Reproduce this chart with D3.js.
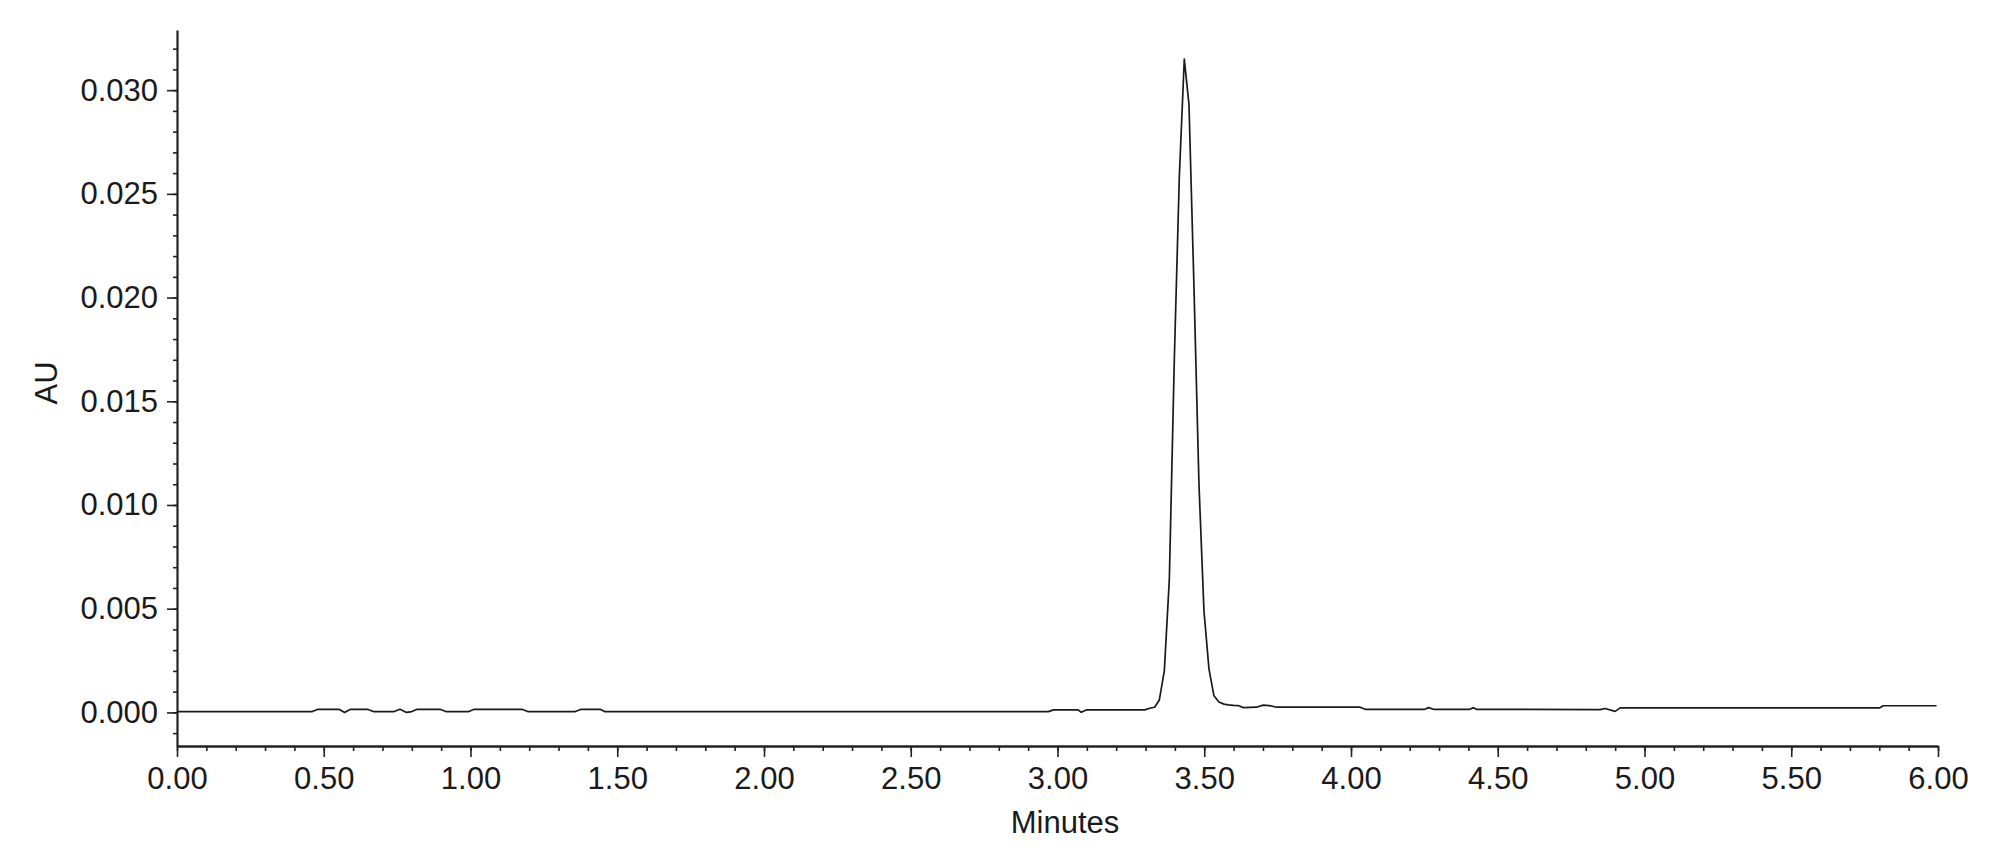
<!DOCTYPE html>
<html>
<head>
<meta charset="utf-8">
<script src="https://cdn.jsdelivr.net/npm/d3@7"></script>
<style>
  html, body { margin: 0; padding: 0; background: #ffffff; }
  svg { display: block; }
  text { font-family: "Liberation Sans", Arial, Helvetica, sans-serif; fill: #1a1a1a; }
</style>
</head>
<body>
<svg id="chart" width="2000" height="864"></svg>
<script>
// ---- data ----
const timeMin = [
  0.000, 0.461, 0.480, 0.552, 0.571, 0.591, 0.649, 0.669, 0.740, 0.760,
  0.782, 0.800, 0.818, 0.896, 0.916, 0.994, 1.013, 1.175, 1.195, 1.357,
  1.377, 1.442, 1.457, 2.969, 2.986, 3.070, 3.081, 3.098, 3.297, 3.314,
  3.331, 3.347, 3.364, 3.381, 3.398, 3.415, 3.432, 3.448, 3.465, 3.482,
  3.499, 3.516, 3.533, 3.550, 3.567, 3.583, 3.600, 3.616, 3.633, 3.678,
  3.701, 3.722, 3.746, 4.031, 4.048, 4.252, 4.264, 4.281, 4.405, 4.417,
  4.427, 4.848, 4.866, 4.900, 4.917, 5.802, 5.813, 5.995
];
const absorbanceAU = [
  0.00004, 0.00004, 0.00015, 0.00015, 0.00000, 0.00015, 0.00015, 0.00004, 0.00004, 0.00015,
  0.00000, 0.00004, 0.00015, 0.00015, 0.00004, 0.00004, 0.00015, 0.00015, 0.00004, 0.00004,
  0.00015, 0.00015, 0.00004, 0.00004, 0.00012, 0.00012, 0.00001, 0.00012, 0.00012, 0.00020,
  0.00025, 0.00060, 0.00200, 0.00640, 0.01700, 0.02580, 0.03150, 0.02930, 0.02050, 0.01100,
  0.00490, 0.00210, 0.00080, 0.00050, 0.00040, 0.00036, 0.00034, 0.00033, 0.00023, 0.00025,
  0.00035, 0.00033, 0.00025, 0.00025, 0.00015, 0.00015, 0.00023, 0.00015, 0.00015, 0.00023,
  0.00015, 0.00013, 0.00019, 0.00005, 0.00022, 0.00022, 0.00032, 0.00032
];
const yMajorTicks = [0.000, 0.005, 0.010, 0.015, 0.020, 0.025, 0.030];
const xMajorTicks = [0, 0.5, 1, 1.5, 2, 2.5, 3, 3.5, 4, 4.5, 5, 5.5, 6];
const xTitle = "Minutes";
const yTitle = "AU";

// ---- layout ----
const svg = d3.select("#chart");
const x = d3.scaleLinear().domain([0, 6]).range([177, 1938]);
const y = d3.scaleLinear().domain([-0.00162, 0.0329]).range([746, 30]);

const yMinor = d3.range(-1, 33).map(i => i * 0.001);
const xMinor = d3.range(0, 61).map(i => i * 0.1);
const FONT = "31px";

// minor y ticks
svg.append("g")
  .attr("transform", `translate(${x.range()[0]},0)`)
  .call(d3.axisLeft(y).tickValues(yMinor).tickSize(4).tickSizeOuter(0).tickFormat(""))
  .call(g => g.select(".domain").remove())
  .call(g => g.selectAll("line").attr("stroke", "#222").attr("stroke-width", 1.6));

// major y axis
svg.append("g")
  .attr("transform", `translate(${x.range()[0]},0)`)
  .call(d3.axisLeft(y).tickValues(yMajorTicks).tickSize(10).tickSizeOuter(0).tickPadding(9)
        .tickFormat(d3.format(".3f")))
  .call(g => g.select(".domain").attr("stroke", "#222").attr("stroke-width", 2.2))
  .call(g => g.selectAll("line").attr("stroke", "#222").attr("stroke-width", 1.6))
  .call(g => g.selectAll("text").style("font-size", FONT).attr("fill", "#1a1a1a")
        .attr("font-family", "'Liberation Sans', Arial, sans-serif"));

// minor x ticks
svg.append("g")
  .attr("transform", `translate(0,${y.range()[0]})`)
  .call(d3.axisBottom(x).tickValues(xMinor).tickSize(5).tickSizeOuter(0).tickFormat(""))
  .call(g => g.select(".domain").remove())
  .call(g => g.selectAll("line").attr("stroke", "#222").attr("stroke-width", 1.6));

// major x axis
svg.append("g")
  .attr("transform", `translate(0,${y.range()[0]})`)
  .call(d3.axisBottom(x).tickValues(xMajorTicks).tickSize(11).tickSizeOuter(0).tickPadding(10)
        .tickFormat(d3.format(".2f")))
  .call(g => g.select(".domain").attr("stroke", "#222").attr("stroke-width", 2.6))
  .call(g => g.selectAll("line").attr("stroke", "#222").attr("stroke-width", 1.6))
  .call(g => g.selectAll("text").style("font-size", FONT).attr("fill", "#1a1a1a")
        .attr("font-family", "'Liberation Sans', Arial, sans-serif"));

// trace
const pts = timeMin.map((t, i) => [t, absorbanceAU[i]]);
svg.append("path")
  .datum(pts)
  .attr("fill", "none")
  .attr("stroke", "#1a1a1a")
  .attr("stroke-width", 1.7)
  .attr("stroke-linejoin", "round")
  .attr("d", d3.line().x(d => x(d[0])).y(d => y(d[1])));

// axis titles
svg.append("text")
  .attr("x", 1065).attr("y", 833)
  .attr("text-anchor", "middle")
  .style("font-size", FONT)
  .text(xTitle);

svg.append("text")
  .attr("transform", "translate(57,383) rotate(-90)")
  .attr("text-anchor", "middle")
  .style("font-size", FONT)
  .text(yTitle);
</script>
</body>
</html>
